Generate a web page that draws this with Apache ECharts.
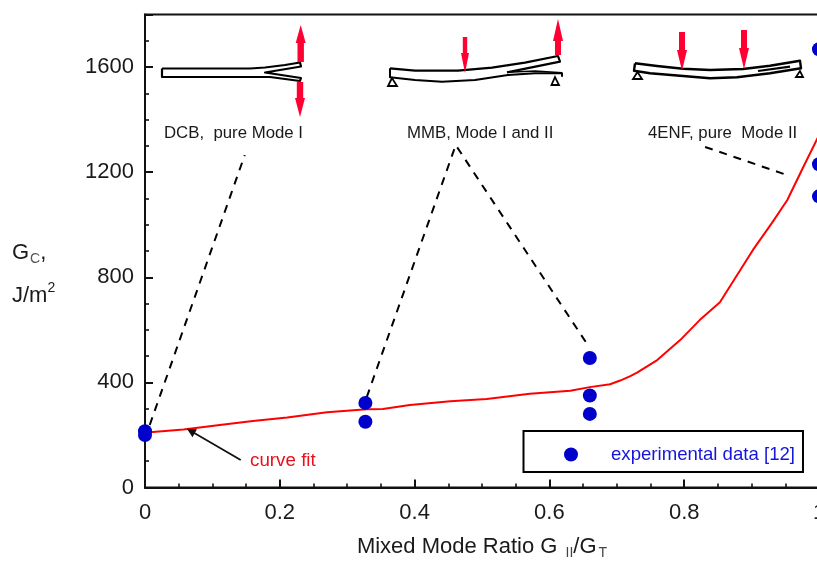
<!DOCTYPE html>
<html><head><meta charset="utf-8">
<style>html,body{margin:0;padding:0;background:#fff}#c{width:817px;height:561px}</style>
<script src="https://cdn.jsdelivr.net/npm/echarts@6/dist/echarts.min.js"></script>
</head><body><div id="c"></div>
<script>
const curveX = [0,0.007,0.057,0.111,0.16,0.211,0.27,0.329,0.353,0.393,0.453,0.507,0.571,0.631,0.66,0.69,0.705,0.72,0.73,0.76,0.794,0.823,0.853,0.872,0.902,0.93,0.953,0.976,1];
const curveY = [203,210,221,238,253,266,286,298,299,314,328,337,357,368,382,393,407,424,437,485,561,637,705,782,904,1006,1094,1216,1341];
const dataX = [0,0,0.327,0.327,0.66,0.66,0.66,1,1,1];
const dataY = [200,214,322,250,493,350,280,1668,1230,1108];
const dashDCB = [[0.007,238],[0.148,1265]];
const dashMMB = [[0.329,344],[0.461,1303],[0.657,542]];
const dash4ENF = [[0.831,1296],[0.957,1185]];
const curveFitArrow = [[0.142,105],[0.068,215]];
const legendLabel = 'experimental data [12]';
const FONT = '"Liberation Sans", Arial, sans-serif';
const INK = '#1a1a1a', RED = '#ff0033';

const zip = (a,b)=>a.map((v,i)=>[v,b[i]]);
const dashSeries = d=>({type:'line',data:d,symbol:'none',silent:true,clip:false,z:1,
  lineStyle:{color:'#000',width:2,type:[8,7]}});
const line = (pts,w=2.2)=>({type:'polyline',shape:{points:pts},style:{stroke:'#000',lineWidth:w,fill:null,lineJoin:'round'},z:5});
const tri = (a,b,c)=>({type:'polygon',shape:{points:[a,b,c]},style:{stroke:'#000',lineWidth:1.8,fill:'#fff'},z:5});
const arrow = (x,y0,yBase,yTip,hw,sw)=>({type:'polygon',z:6,style:{fill:RED},shape:{points:[
  [x-sw,y0],[x+sw,y0],[x+sw,yBase],[x+hw,yBase],[x,yTip],[x-hw,yBase],[x-sw,yBase]]}});
const label = (t,x,y)=>({type:'text',x,y,z:6,style:{text:t,font:'16.8px '+FONT,fill:INK,textVerticalAlign:'middle'}});

const graphics = [
  // DCB specimen
  line([[162,68.5],[250,68.5],[265,67.5],[285,65],[300,62.5],[301,66.5],[265,72.5],[301,78],[300,81],[270,77],[250,77],[162,77],[162,68.5]]),
  arrow(300.7,62,43,25,5,3.2), arrow(300,82,98,117,5,3.2),
  // MMB specimen
  line([[390,68.3],[415,70.7],[458,70.7],[492,67.7],[525,62.7],[558,56],[560,61.7],[507,72.3]]),
  line([[390,68.3],[390,77.3],[415,80],[442,81.7],[475,80],[508,75],[535,73.3],[562,73.3],[562,76.7]],2),
  line([[507,72.3],[535,71],[562,72.7]],1.4),
  tri([392,78],[388,86],[397,86]), tri([555,77],[551.5,85],[559,85]),
  arrow(465,37,53,73,4,2.2), arrow(558,55,41,19,5,3),
  // 4ENF specimen
  line([[635,63.3],[657,66],[683,68.7],[710,70],[743,69],[770,65.7],[800,60.7],[801,68.3],[770,73.3],[737,77.3],[710,78.3],[683,76],[650,73.3],[634,70.7],[635,63.3]],2.4),
  line([[758,71],[790,66.7]]),
  tri([637.5,72],[633,79],[642,79]), tri([800,71],[796,77],[803,77]),
  arrow(682,32,50,70.7,5,3), arrow(744,30,48,69,5,3),
  // captions
  label('DCB,  pure Mode I',164,133),
  label('MMB, Mode I and II',407,133),
  label('4ENF, pure  Mode II',648,133),
  {type:'text',x:250,y:461,z:6,style:{text:'curve fit',font:'18.8px '+FONT,fill:'#e8101c',textVerticalAlign:'middle'}},
  {type:'text',x:12,y:254,z:6,style:{text:'{m|G}{s|C}{m|,}',textVerticalAlign:'middle',rich:{
     m:{font:'22px '+FONT,fill:INK,verticalAlign:'top',lineHeight:25},
     s:{font:'14px '+FONT,fill:'#555',verticalAlign:'bottom',padding:[12,0,0,1],lineHeight:14}}}},
  {type:'text',x:12,y:294,z:6,style:{text:'{m|J/m}{u|2}',textVerticalAlign:'middle',rich:{
     m:{font:'22px '+FONT,fill:INK,verticalAlign:'bottom',lineHeight:25},
     u:{font:'14px '+FONT,fill:INK,verticalAlign:'top',padding:[0,0,10,0],lineHeight:14}}}}
];

const chart = echarts.init(document.getElementById('c'),null,{renderer:'canvas'});
chart.setOption({
  animation:false,
  backgroundColor:'#fff',
  textStyle:{fontFamily:FONT},
  grid:{left:145,top:14.5,width:674,height:473,outerBoundsMode:'none',show:true,borderColor:'#111',borderWidth:2,backgroundColor:'transparent'},
  legend:{
    left:523.5,top:431,orient:'horizontal',selectedMode:false,data:[{name:legendLabel,icon:'circle'}],
    itemWidth:14,itemHeight:14,itemGap:0,padding:[14,8,8,40.5],
    borderColor:'#000',borderWidth:2,backgroundColor:'#fff',
    textStyle:{fontFamily:FONT,fontSize:18.6,color:'#1515dd',padding:[0,0,0,28]}
  },
  xAxis:{type:'value',min:0,max:1,interval:0.2,
    name:'{m|Mixed Mode Ratio G }{s|II}{m|/G}{s|T}',nameLocation:'middle',nameGap:48,
    nameTextStyle:{padding:[0,0,0,0],rich:{
      m:{fontFamily:FONT,fontSize:22,color:INK,verticalAlign:'top',lineHeight:25},
      s:{fontFamily:FONT,fontSize:14,color:'#444',verticalAlign:'bottom',padding:[17,0,0,2],lineHeight:14}}},
    axisLine:{lineStyle:{color:'#111',width:2}},
    axisTick:{inside:true,length:8,lineStyle:{color:'#111',width:2}},
    minorTick:{show:true,splitNumber:4,length:4,lineStyle:{color:'#111',width:1.6}},
    axisLabel:{fontSize:22,color:INK,margin:14,showMinLabel:true,showMaxLabel:true,hideOverlap:false},
    splitLine:{show:false}},
  yAxis:{type:'value',min:0,max:1800,interval:400,
    axisLine:{show:true,lineStyle:{color:'#111',width:2}},
    axisTick:{show:true,inside:true,length:8,lineStyle:{color:'#111',width:2}},
    minorTick:{show:true,splitNumber:4,length:4,lineStyle:{color:'#111',width:1.6}},
    axisLabel:{fontSize:22,color:INK,margin:11,showMaxLabel:false,formatter:v=>String(v)},
    splitLine:{show:false}},
  graphic:graphics,
  series:[
    dashSeries(dashDCB),dashSeries(dashMMB),dashSeries(dash4ENF),
    {name:'curve fit',type:'line',data:zip(curveX,curveY),symbol:'none',z:2,clip:false,
     lineStyle:{color:'#ff0000',width:2},
     markLine:{silent:true,animation:false,symbol:['none','triangle'],symbolSize:9,label:{show:false},
       lineStyle:{color:'#111',width:1.8,type:'solid'},
       data:[[{coord:curveFitArrow[0]},{coord:curveFitArrow[1]}]]}},
    {name:legendLabel,type:'scatter',data:zip(dataX,dataY),symbol:'circle',symbolSize:14,clip:false,z:3,
     itemStyle:{color:'#0000cc',opacity:1}}
  ]
});
</script></body></html>
